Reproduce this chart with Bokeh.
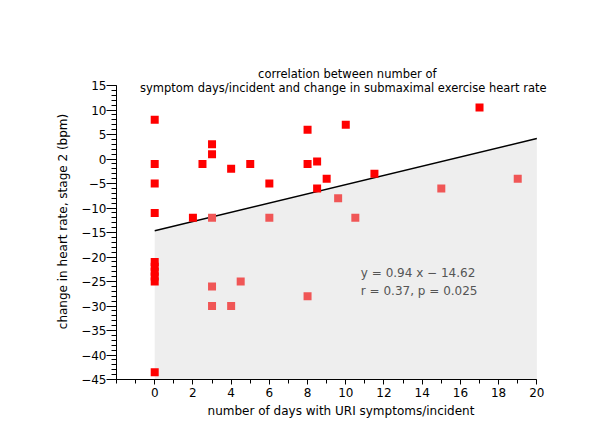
from bokeh.plotting import figure
from bokeh.models import FixedTicker, SingleIntervalTicker, CustomJSTickFormatter, Label
from bokeh.embed import file_html
from bokeh.resources import INLINE

# ---- data ----
red_x = [0, 0, 0, 0, 0, 0, 0, 0, 0, 0, 2, 2.5, 3, 3, 4, 5, 6, 8, 8, 8.5, 8.5, 9, 10, 11.5, 17]
red_y = [8, -1, -5, -11, -21, -22, -23, -24, -25, -43.5, -12, -1, 3, 1, -2, -1, -5, 6, -1, -0.5, -6, -4, 7, -3, 10.5]
light_x = [3, 6, 9.6, 10.5, 15, 19, 3, 3, 4, 4.5, 8]
light_y = [-12, -12, -8, -12, -6, -4, -26, -30, -30, -25, -28]
slope = 0.94
intercept = -14.62
fit_x = [0, 20]
x_major = [0, 2, 4, 6, 8, 10, 12, 14, 16, 18, 20]
x_minor = list(range(-2, 21))
title_lines = ["correlation between number of",
               "symptom days/incident and change in submaximal exercise heart rate"]
eq_lines = ["y = 0.94 x \u2212 14.62", "r = 0.37, p = 0.025"]

FONT = "DejaVu Sans"

p = figure(width=584, height=426, output_backend="svg", toolbar_location=None,
           x_range=(-2, 21.5), y_range=(-45, 19.5),
           min_border_left=116, min_border_right=19, min_border_top=63, min_border_bottom=47)
p.outline_line_color = None
p.xgrid.visible = False
p.ygrid.visible = False
p.background_fill_color = "white"

# shaded region below regression line
fit_y = [slope * x + intercept for x in fit_x]
p.patch(x=[fit_x[0], fit_x[0], fit_x[1], fit_x[1]],
        y=[-45, fit_y[0], fit_y[1], -45],
        fill_color="#eeeeee", line_color=None)
p.line(fit_x, fit_y, line_color="black", line_width=1.5)

p.scatter(light_x, light_y, marker="square", size=8, fill_color="#f05656", line_color=None)
p.scatter(red_x, red_y, marker="square", size=8, fill_color="#ff0000", line_color=None)

# axes
fmt = CustomJSTickFormatter(code="return tick < 0 ? '\\u2212' + Math.abs(tick) : String(tick);")
xa = p.xaxis[0]
xa.ticker = FixedTicker(ticks=x_major, minor_ticks=x_minor)
xa.formatter = fmt
xa.bounds = (-2, 20)
xa.axis_label = "number of days with URI symptoms/incident"
ya = p.yaxis[0]
ya.ticker = SingleIntervalTicker(interval=5, num_minor_ticks=5)
ya.formatter = fmt
ya.bounds = (-45, 15)
ya.axis_label = "change in heart rate, stage 2 (bpm)"
for ax in (xa, ya):
    ax.axis_line_color = "black"
    ax.major_tick_line_color = "black"
    ax.minor_tick_line_color = "black"
    ax.major_tick_in = 0
    ax.minor_tick_in = 0
    ax.major_label_text_font = FONT
    ax.major_label_text_font_size = "12px"
    ax.major_label_text_color = "black"
    ax.axis_label_text_font = FONT
    ax.axis_label_text_font_size = "12px"
    ax.axis_label_text_font_style = "normal"
    ax.axis_label_text_color = "black"
xa.major_tick_out = 5
xa.minor_tick_out = 4
xa.major_label_standoff = 3
xa.axis_label_standoff = 4
ya.major_tick_out = 10
ya.minor_tick_out = 5
ya.major_label_standoff = 0
ya.axis_label_standoff = 8

# title (two lines)
p.add_layout(Label(x=10.08, y=17.45, text=title_lines[0], text_align="center",
                   text_baseline="alphabetic", text_font=FONT, text_font_size="11.5px",
                   text_color="black"))
p.add_layout(Label(x=9.87, y=14.5, text=title_lines[1], text_align="center",
                   text_baseline="alphabetic", text_font=FONT, text_font_size="11.5px",
                   text_color="black"))

# regression annotation
p.add_layout(Label(x=10.79, y=-23.3, text=eq_lines[0], text_align="left",
                   text_baseline="middle", text_font=FONT, text_font_size="12px",
                   text_color="#555555"))
p.add_layout(Label(x=10.79, y=-26.84, text=eq_lines[1], text_align="left",
                   text_baseline="middle", text_font=FONT, text_font_size="12px",
                   text_color="#555555"))

open("out.html", "w").write(file_html(p, INLINE))
